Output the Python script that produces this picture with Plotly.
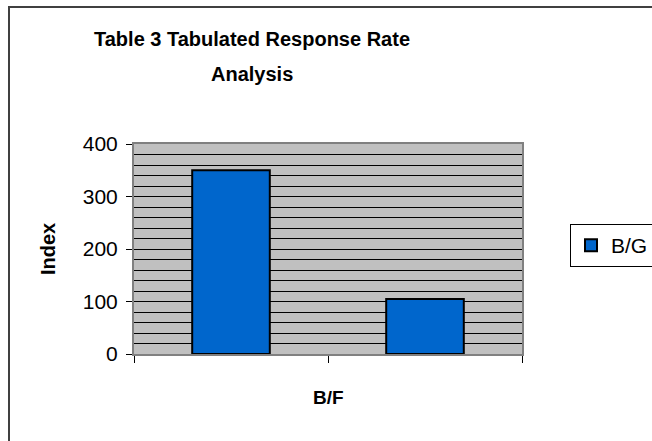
import plotly.graph_objects as go

categories = ["1", "2"]
values = [350, 105]
series_name = "B/G"
y_ticks = [0, 100, 200, 300, 400]
title_lines = ["Table 3 Tabulated Response Rate", "Analysis"]
y_title = "Index"
x_title = "B/F"

W, H = 652, 441
L, R, T, B = 134, 522, 144, 354
pw, ph = R - L, B - T

def px(x):
    return (x - L) / pw

def py(y):
    return (B - y) / ph

FONT = "Liberation Sans, Arial, sans-serif"

fig = go.Figure()
fig.add_trace(go.Bar(
    x=categories, y=values, name=series_name,
    marker=dict(color="#0066CC", line=dict(color="black", width=2)),
    width=0.4, showlegend=True,
))

fig.update_layout(
    width=W, height=H,
    margin=dict(l=L, r=W - R, t=T, b=H - B, autoexpand=False),
    paper_bgcolor="white",
    plot_bgcolor="#C0C0C0",
    font=dict(family=FONT, color="black"),
    showlegend=True,
    legend=dict(
        x=px(570), y=py(245.5), xanchor="left", yanchor="middle",
        bordercolor="black", borderwidth=1, bgcolor="white",
        font=dict(size=21), itemwidth=30,
    ),
    xaxis=dict(
        type="category", showticklabels=False, tickson="boundaries",
        ticks="outside", ticklen=7, tickcolor="black",
        showline=True, linecolor="#808080", linewidth=2, mirror=True,
        showgrid=False, range=[-0.5, 1.5],
    ),
    yaxis=dict(
        range=[0, 400], tickmode="array", tickvals=y_ticks, ticks="outside", ticklen=6,
        tickcolor="black", tickfont=dict(size=21), ticklabelstandoff=4,
        showline=True, linecolor="#808080", linewidth=2, mirror=True,
        showgrid=True, gridcolor="black", gridwidth=1,
        zeroline=False,
        minor=dict(dtick=20, showgrid=True, gridcolor="black", gridwidth=1, ticks=""),
    ),
)

fig.add_annotation(
    text="<b>" + title_lines[0] + "</b>",
    xref="paper", yref="paper", x=px(252), y=py(39), xanchor="center", yanchor="middle",
    showarrow=False, font=dict(size=20),
)
fig.add_annotation(
    text="<b>" + title_lines[1] + "</b>",
    xref="paper", yref="paper", x=px(252), y=py(74), xanchor="center", yanchor="middle",
    showarrow=False, font=dict(size=20),
)
fig.add_annotation(
    text="<b>" + y_title + "</b>", xref="paper", yref="paper", x=px(48), y=py(249),
    xanchor="center", yanchor="middle",
    showarrow=False, textangle=-90, font=dict(size=20),
)
fig.add_annotation(
    text="<b>" + x_title + "</b>", xref="paper", yref="paper", x=px(328), y=py(397),
    xanchor="center", yanchor="middle",
    showarrow=False, font=dict(size=19),
)
fig.add_shape(
    type="rect", xref="paper", yref="paper",
    x0=px(9), x1=px(680), y0=py(470), y1=py(7),
    line=dict(color="#404040", width=2), layer="above",
)

fig.write_html("out.html", config={"displayModeBar": False},
               post_script="document.body.style.margin='0';")
